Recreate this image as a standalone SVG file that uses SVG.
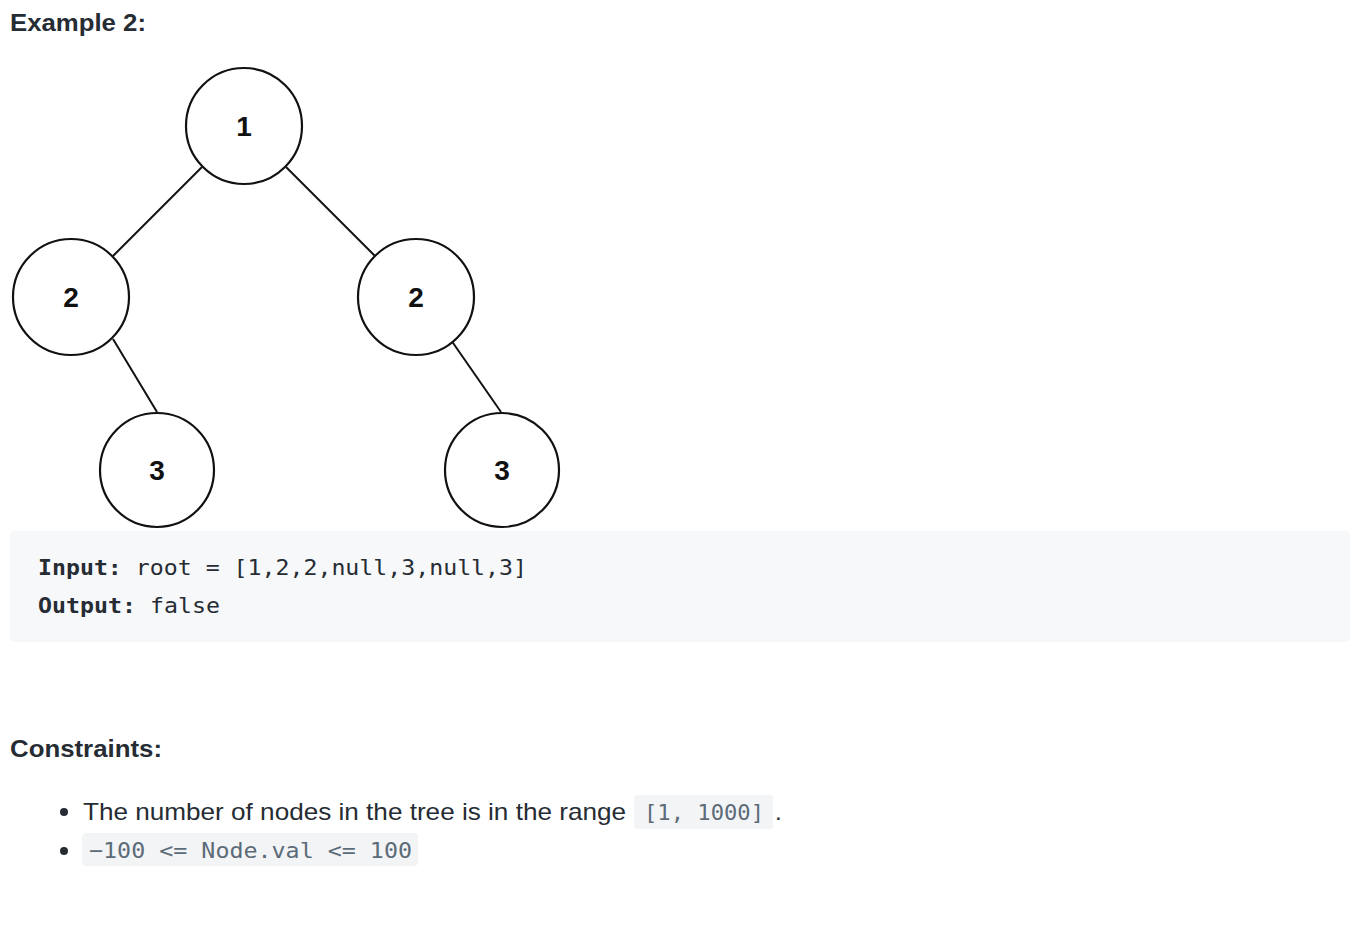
<svg xmlns="http://www.w3.org/2000/svg" width="1366" height="934" viewBox="0 0 1366 934">
<style>
.node circle{fill:#fff;stroke:#111;stroke-width:2.2}
.node text{font-family:"Liberation Sans",Arial,sans-serif;font-weight:bold;font-size:28px;fill:#111;text-anchor:middle}
.edge{stroke:#111;stroke-width:2;fill:none}
.h{font-family:"Liberation Sans",Arial,sans-serif;font-weight:bold;font-size:24px;fill:#262c33}
.p{font-family:"Liberation Sans",Arial,sans-serif;font-size:24px;fill:#262c33}
.m{font-family:"DejaVu Sans Mono","Liberation Mono",monospace;font-size:22px;fill:#262c33}
.mb{font-weight:bold}
.c{font-family:"DejaVu Sans Mono","Liberation Mono",monospace;font-size:22px;fill:#5c6b78}
.chip{fill:#f3f4f6}
</style>
<rect width="1366" height="934" fill="#fff"/>
<text class="h" x="10" y="31" textLength="136" lengthAdjust="spacingAndGlyphs">Example 2:</text>
<g id="connectors">
<line class="edge" x1="202" y1="167" x2="113" y2="256"/>
<line class="edge" x1="286" y1="167" x2="375" y2="256"/>
<line class="edge" x1="113" y1="339" x2="157" y2="412"/>
<line class="edge" x1="451" y1="340" x2="501" y2="412"/>
</g>
<g id="n1" class="node"><circle cx="244" cy="126" r="58"/><text x="244" y="136">1</text></g>
<g id="n2l" class="node"><circle cx="71" cy="297" r="58"/><text x="71" y="307">2</text></g>
<g id="n2r" class="node"><circle cx="416" cy="297" r="58"/><text x="416" y="307">2</text></g>
<g id="n3l" class="node"><circle cx="157" cy="470" r="57"/><text x="157" y="480">3</text></g>
<g id="n3r" class="node"><circle cx="502" cy="470" r="57"/><text x="502" y="480">3</text></g>
<rect x="10" y="531" width="1340" height="111" rx="5" fill="#f7f8fa"/>
<text class="m" x="38" y="575" textLength="489" lengthAdjust="spacingAndGlyphs"><tspan class="mb">Input:</tspan> root = [1,2,2,null,3,null,3]</text>
<text class="m" x="38" y="613" textLength="182" lengthAdjust="spacingAndGlyphs"><tspan class="mb">Output:</tspan> false</text>
<text class="h" x="10" y="757" textLength="152" lengthAdjust="spacingAndGlyphs">Constraints:</text>
<circle cx="64" cy="812" r="4" fill="#262c33"/>
<text class="p" x="83" y="820" textLength="543" lengthAdjust="spacingAndGlyphs">The number of nodes in the tree is in the range</text>
<rect class="chip" x="634" y="795" width="139" height="34" rx="4"/>
<text class="c" x="644" y="820" textLength="120" lengthAdjust="spacingAndGlyphs">[1, 1000]</text>
<text class="p" x="775" y="820">.</text>
<circle cx="64" cy="851" r="4" fill="#262c33"/>
<rect class="chip" x="82" y="833" width="336" height="33" rx="4"/>
<text class="c" x="89" y="858" textLength="323" lengthAdjust="spacingAndGlyphs">−100 &lt;= Node.val &lt;= 100</text>
</svg>
